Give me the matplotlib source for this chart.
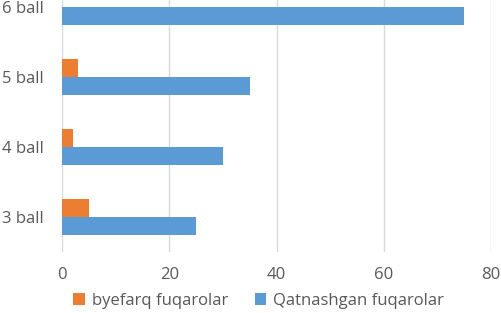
import matplotlib
matplotlib.use("Agg")
import matplotlib.pyplot as plt
import numpy as np

categories = ["3 ball", "4 ball", "5 ball", "6 ball"]
byefarq = [5, 2, 3, 0]
qatnashgan = [25, 30, 35, 75]
xticks = [0, 20, 40, 60, 80]

orange = "#ED7D31"
blue = "#5B9BD5"
grey = "#595959"

plt.rcParams["font.family"] = ["Open Sans", "DejaVu Sans"]

fig = plt.figure(figsize=(5.01, 3.13), dpi=100)
ax = fig.add_axes([62 / 501, 61 / 313, 429 / 501, 252 / 313])

y = np.arange(len(categories))
h = 0.257
ax.barh(y + h / 2, byefarq, height=h, color=orange, label="byefarq fuqarolar", zorder=3)
ax.barh(y - h / 2, qatnashgan, height=h, color=blue, label="Qatnashgan fuqarolar", zorder=3)

ax.set_xlim(0, 80)
ax.set_ylim(-0.5, 3.1)
ax.set_xticks(xticks)
ax.set_yticks(y)
ax.set_yticklabels(categories)
ax.tick_params(length=0, labelsize=12, colors=grey)
ax.tick_params(axis="x", pad=11)
ax.tick_params(axis="y", pad=13)
ax.grid(axis="x", color="#d9d9d9", linewidth=1, zorder=0)
for s in ax.spines.values():
    s.set_visible(False)

fig.legend(loc="lower center", bbox_to_anchor=(0.516, -0.035), ncol=2, frameon=False,
           fontsize=12, labelcolor=grey, handlelength=0.7, handleheight=0.7,
           handletextpad=0.4, columnspacing=1.6)

fig.savefig("out.png", dpi=100)
